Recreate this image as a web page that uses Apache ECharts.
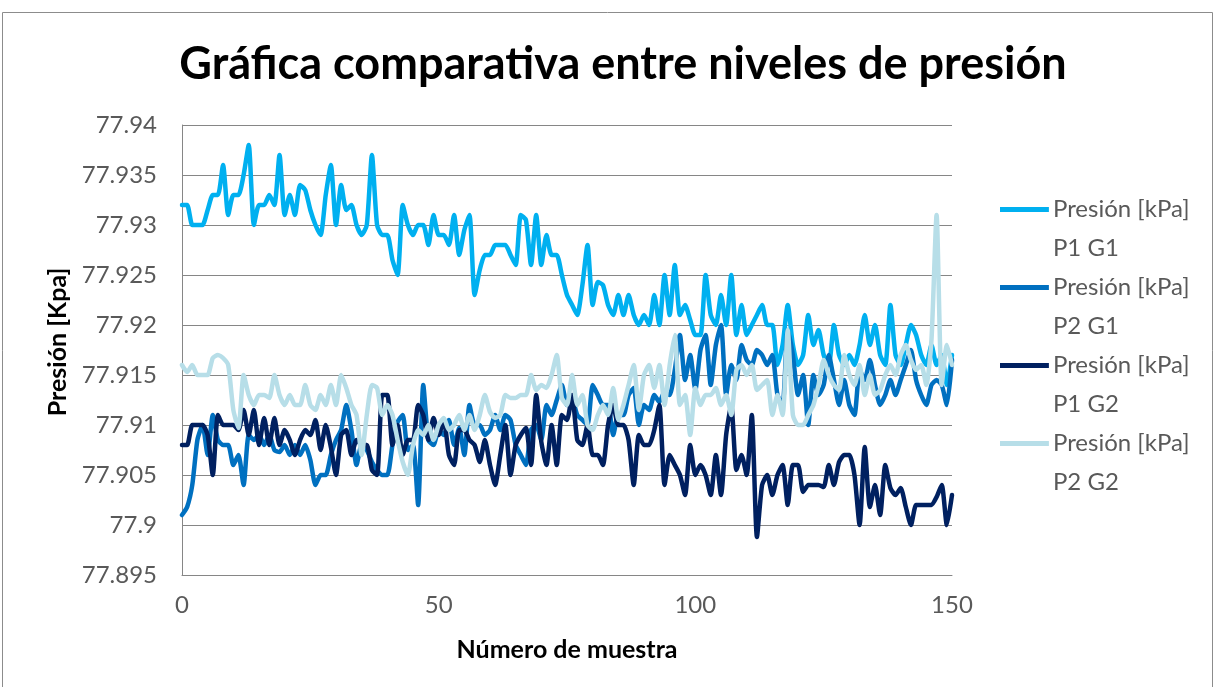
<!DOCTYPE html>
<html>
<head>
<meta charset="utf-8">
<script src="https://cdn.jsdelivr.net/npm/echarts@6/dist/echarts.min.js"></script>
<style>html,body{margin:0;padding:0;background:#fff;}#c{width:1215px;height:687px;}</style>
</head>
<body>
<div id="c"></div>
<script>
const seriesNames = ['Presión [kPa]\nP1 G1', 'Presión [kPa]\nP2 G1', 'Presión [kPa]\nP1 G2', 'Presión [kPa]\nP2 G2'];
const xTicks = [0, 50, 100, 150];
const yTicks = [77.895, 77.9, 77.905, 77.91, 77.915, 77.92, 77.925, 77.93, 77.935, 77.94];

const p1g1 = [
77.932,77.932,77.930,77.930,77.930,77.9315,77.933,77.933,77.936,77.931,
77.933,77.933,77.935,77.938,77.930,77.932,77.932,77.933,77.932,77.937,
77.931,77.933,77.931,77.934,77.9335,77.9315,77.930,77.929,77.933,77.936,
77.930,77.934,77.9315,77.932,77.930,77.929,77.930,77.937,77.930,77.929,
77.929,77.9265,77.925,77.932,77.930,77.929,77.930,77.930,77.928,77.931,
77.929,77.929,77.928,77.931,77.927,77.9295,77.931,77.923,77.9255,77.927,
77.927,77.928,77.928,77.928,77.927,77.926,77.931,77.9305,77.926,77.931,
77.926,77.929,77.927,77.927,77.925,77.923,77.922,77.921,77.924,77.928,
77.922,77.9243,77.924,77.922,77.921,77.923,77.921,77.923,77.921,77.920,
77.921,77.920,77.923,77.920,77.925,77.921,77.926,77.921,77.922,77.9205,
77.919,77.919,77.925,77.921,77.920,77.923,77.920,77.925,77.919,77.922,
77.919,77.920,77.921,77.922,77.920,77.920,77.916,77.918,77.922,77.918,
77.916,77.917,77.921,77.918,77.9195,77.917,77.916,77.920,77.917,77.916,
77.917,77.916,77.918,77.921,77.918,77.920,77.917,77.916,77.922,77.917,
77.916,77.918,77.920,77.919,77.917,77.916,77.918,77.916,77.917,77.914,
77.917];

const p2g1 = [
77.901,77.9018,77.904,77.9085,77.910,77.907,77.911,77.9085,77.908,77.908,
77.906,77.907,77.904,77.909,77.9085,77.909,77.908,77.909,77.9075,77.9073,
77.908,77.907,77.908,77.907,77.908,77.9065,77.904,77.905,77.905,77.907,
77.9085,77.9095,77.912,77.9095,77.906,77.908,77.9075,77.9063,77.9055,77.905,
77.905,77.908,77.9103,77.911,77.9075,77.908,77.902,77.914,77.9085,77.908,
77.9095,77.909,77.9105,77.908,77.9097,77.907,77.912,77.910,77.910,77.909,
77.9095,77.911,77.9095,77.911,77.9105,77.908,77.907,77.906,77.9095,77.910,
77.9085,77.912,77.911,77.9125,77.914,77.912,77.9125,77.911,77.9105,77.910,
77.914,77.913,77.912,77.912,77.909,77.911,77.911,77.913,77.9137,77.910,
77.912,77.9115,77.913,77.9123,77.9133,77.913,77.9155,77.919,77.9145,77.917,
77.9135,77.9175,77.919,77.914,77.918,77.920,77.913,77.916,77.9145,77.918,
77.9165,77.916,77.9175,77.917,77.916,77.917,77.913,77.912,77.9195,77.917,
77.913,77.915,77.910,77.915,77.913,77.914,77.917,77.9145,77.912,77.9145,
77.912,77.911,77.9155,77.9145,77.9165,77.914,77.912,77.913,77.9145,77.913,
77.9145,77.916,77.9175,77.9145,77.913,77.912,77.914,77.9145,77.914,77.912,
77.9165];

const p1g2 = [
77.908,77.908,77.910,77.910,77.910,77.909,77.905,77.911,77.910,77.910,
77.910,77.9095,77.9115,77.909,77.9115,77.908,77.9107,77.908,77.9107,77.908,
77.9095,77.9085,77.907,77.9085,77.9095,77.909,77.9105,77.9075,77.910,77.9078,
77.905,77.909,77.9095,77.907,77.9085,77.908,77.908,77.9055,77.905,77.913,
77.913,77.908,77.910,77.907,77.9085,77.9085,77.912,77.911,77.9085,77.9107,
77.909,77.9105,77.907,77.906,77.9095,77.9095,77.9085,77.908,77.9063,77.9085,
77.906,77.904,77.907,77.910,77.905,77.908,77.909,77.9097,77.906,77.913,
77.9083,77.906,77.910,77.906,77.911,77.9105,77.913,77.9085,77.908,77.910,
77.907,77.907,77.906,77.910,77.912,77.910,77.910,77.9085,77.904,77.909,
77.908,77.908,77.9095,77.912,77.904,77.907,77.906,77.905,77.903,77.908,
77.905,77.906,77.905,77.903,77.907,77.903,77.909,77.912,77.9055,77.907,
77.905,77.911,77.8988,77.904,77.905,77.903,77.905,77.906,77.902,77.906,
77.906,77.9033,77.904,77.904,77.904,77.9038,77.906,77.904,77.9063,77.907,
77.907,77.905,77.900,77.9078,77.9018,77.904,77.901,77.906,77.9037,77.903,
77.9037,77.9018,77.900,77.902,77.902,77.902,77.902,77.9028,77.904,77.900,
77.903];

const p2g2 = [
77.916,77.9153,77.916,77.915,77.915,77.915,77.9167,77.917,77.9167,77.916,
77.9115,77.9097,77.915,77.913,77.912,77.913,77.913,77.9127,77.915,77.913,
77.912,77.913,77.912,77.912,77.914,77.912,77.9115,77.913,77.912,77.914,
77.912,77.915,77.9137,77.912,77.911,77.907,77.911,77.914,77.9137,77.911,
77.912,77.911,77.9085,77.9063,77.905,77.908,77.9095,77.909,77.910,77.9085,
77.910,77.9107,77.9095,77.910,77.911,77.9095,77.911,77.9095,77.911,77.913,
77.9113,77.9107,77.911,77.913,77.9127,77.9127,77.913,77.913,77.915,77.9135,
77.914,77.9137,77.915,77.917,77.9127,77.912,77.915,77.912,77.913,77.910,
77.9095,77.911,77.912,77.911,77.9137,77.9105,77.912,77.914,77.916,77.9115,
77.915,77.916,77.9137,77.916,77.912,77.916,77.919,77.912,77.913,77.909,
77.9137,77.912,77.913,77.913,77.9137,77.912,77.913,77.911,77.9155,77.916,
77.915,77.916,77.9135,77.914,77.9145,77.911,77.913,77.911,77.9195,77.911,
77.910,77.910,77.911,77.912,77.914,77.9165,77.915,77.914,77.9135,77.917,
77.915,77.914,77.916,77.913,77.915,77.913,77.9135,77.915,77.916,77.915,
77.917,77.918,77.9165,77.9155,77.916,77.914,77.9185,77.931,77.914,77.918,
77.916];

const allData = [p1g1, p2g1, p1g2, p2g2];
const colors = ['#00B0F0', '#0070C0', '#002060', '#B7DEE8'];
const FONT = 'Lato';

const chart = echarts.init(document.getElementById('c'), null, {renderer: 'canvas'});
chart.setOption({
  animation: false,
  backgroundColor: '#ffffff',
  graphic: [{
    type: 'rect', shape: {x: 2.5, y: 12.5, width: 1210, height: 690},
    style: {fill: 'none', stroke: '#8c8c8c', lineWidth: 1}, silent: true
  }],
  title: {
    text: 'Gráfica comparativa entre niveles de presión',
    left: 618, top: 37, textAlign: 'center',
    textStyle: {fontFamily: FONT, fontWeight: 'bold', fontSize: 45, color: '#000'}
  },
  legend: {
    orient: 'vertical', left: 995, top: 185, itemGap: 0,
    itemWidth: 55, itemHeight: 44,
    icon: 'path://M0,0 L10,0 L10,1 L0,1 Z M0,9 L0.001,9 L0,8.999 Z',
    textStyle: {fontFamily: FONT, fontSize: 24, color: '#595959', lineHeight: 39, padding: [0,0,0,-4]},
    data: seriesNames
  },
  grid: {left: 182, right: 263, top: 125, bottom: 112},
  xAxis: {
    type: 'value', min: 0, max: 150, interval: 50,
    name: 'Número de muestra', nameLocation: 'middle', nameGap: 62,
    nameTextStyle: {fontFamily: FONT, fontWeight: 'bold', fontSize: 25, color: '#000'},
    axisLine: {show: true, lineStyle: {color: '#868686', width: 1}},
    axisTick: {show: false},
    axisLabel: {fontFamily: FONT, fontSize: 24, color: '#595959', margin: 18,
      formatter: v => xTicks.includes(v) ? String(v) : ''},
    splitLine: {show: false}
  },
  yAxis: {
    type: 'value', min: 77.895, max: 77.94, interval: 0.005,
    name: 'Presión [Kpa]', nameLocation: 'middle', nameGap: 107, nameRotate: 90,
    nameTextStyle: {fontFamily: FONT, fontWeight: 'bold', fontSize: 25, color: '#000', padding: [0, 0, 0, 16]},
    axisLine: {show: true, lineStyle: {color: '#868686', width: 1}},
    axisTick: {show: false},
    axisLabel: {fontFamily: FONT, fontSize: 24, color: '#595959', margin: 25,
      formatter: v => {
        const t = yTicks.find(k => Math.abs(k - v) < 1e-7);
        return t === undefined ? '' : String(t);
      }},
    splitLine: {show: true, lineStyle: {color: '#868686', width: 1}}
  },
  series: allData.map((arr, k) => ({
    name: seriesNames[k],
    type: 'line',
    data: arr.map((v, i) => [i, v]),
    showSymbol: false,
    symbol: 'none',
    smooth: 0.2,
    color: colors[k],
    lineStyle: {color: colors[k], width: 4.5, cap: 'round', join: 'round'},
    z: 2 + k
  }))
});
</script>
</body>
</html>
